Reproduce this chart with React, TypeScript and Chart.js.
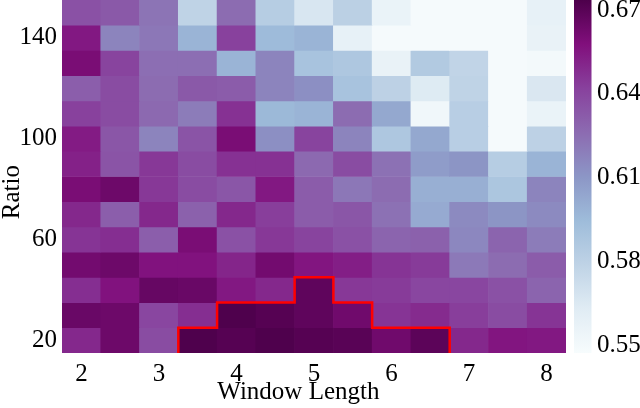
import { useEffect, useRef } from "react";
import { Chart, registerables } from "chart.js";

Chart.register(...registerables);

// Categories
const windowLengths = [2, 2.5, 3, 3.5, 4, 4.5, 5, 5.5, 6, 6.5, 7, 7.5, 8];
const ratios = [150, 140, 130, 120, 110, 100, 90, 80, 70, 60, 50, 40, 30, 20];

// Cell values, one array per ratio row (top to bottom), columns follow windowLengths
const ratio150 = [0.636, 0.633, 0.623, 0.579, 0.626, 0.583, 0.567, 0.581, 0.556, 0.549, 0.549, 0.549, 0.558];
const ratio140 = [0.655, 0.617, 0.622, 0.598, 0.642, 0.595, 0.598, 0.558, 0.549, 0.549, 0.549, 0.549, 0.557];
const ratio130 = [0.660, 0.641, 0.625, 0.625, 0.598, 0.617, 0.590, 0.587, 0.557, 0.585, 0.578, 0.549, 0.550];
const ratio120 = [0.631, 0.638, 0.626, 0.633, 0.632, 0.617, 0.613, 0.590, 0.580, 0.564, 0.579, 0.549, 0.566];
const ratio110 = [0.642, 0.638, 0.627, 0.620, 0.647, 0.596, 0.598, 0.626, 0.603, 0.552, 0.582, 0.549, 0.556];
const ratio100 = [0.654, 0.634, 0.617, 0.635, 0.660, 0.613, 0.641, 0.617, 0.587, 0.603, 0.582, 0.549, 0.580];
const ratio90 = [0.652, 0.635, 0.645, 0.638, 0.647, 0.647, 0.627, 0.638, 0.624, 0.608, 0.611, 0.583, 0.598];
const ratio80 = [0.660, 0.664, 0.645, 0.638, 0.634, 0.655, 0.632, 0.622, 0.626, 0.600, 0.600, 0.588, 0.617];
const ratio70 = [0.650, 0.631, 0.650, 0.630, 0.650, 0.643, 0.632, 0.634, 0.624, 0.602, 0.615, 0.611, 0.615];
const ratio60 = [0.646, 0.648, 0.631, 0.660, 0.636, 0.645, 0.641, 0.636, 0.629, 0.630, 0.616, 0.629, 0.620];
const ratio50 = [0.662, 0.664, 0.657, 0.657, 0.651, 0.662, 0.656, 0.653, 0.646, 0.644, 0.621, 0.626, 0.632];
const ratio40 = [0.648, 0.657, 0.666, 0.665, 0.655, 0.650, 0.668, 0.645, 0.644, 0.640, 0.640, 0.636, 0.629];
const ratio30 = [0.665, 0.664, 0.640, 0.648, 0.673, 0.671, 0.668, 0.663, 0.646, 0.649, 0.643, 0.638, 0.646];
const ratio20 = [0.650, 0.664, 0.638, 0.673, 0.671, 0.673, 0.671, 0.670, 0.663, 0.669, 0.650, 0.656, 0.655];

// Highlighted region outline (x, y in data units)
const regionX = [3.25, 3.25, 3.75, 3.75, 4.75, 4.75, 5.25, 5.25, 5.75, 5.75, 6.75, 6.75];
const regionY = [15, 25, 25, 35, 35, 45, 45, 35, 35, 25, 25, 15];

// Tick labels
const xTicks = [2, 3, 4, 5, 6, 7, 8];
const yTicks = [20, 60, 100, 140];
const colorbarTicks = [0.55, 0.58, 0.61, 0.64, 0.67];
const valueMin = 0.5473;
const valueMax = 0.6736;

const BUPU = ["#f7fcfd", "#e0ecf4", "#bfd3e6", "#9ebcda", "#8c96c6", "#8c6bb1", "#88419d", "#810f7c", "#4d004b"];

const valueRows = [ratio150, ratio140, ratio130, ratio120, ratio110, ratio100, ratio90, ratio80, ratio70, ratio60, ratio50, ratio40, ratio30, ratio20];

function hexToRgb(h: string) {
  return [parseInt(h.slice(1, 3), 16), parseInt(h.slice(3, 5), 16), parseInt(h.slice(5, 7), 16)];
}

function colorFor(v: number) {
  let t = (v - valueMin) / (valueMax - valueMin);
  t = Math.max(0, Math.min(1, t));
  const pos = t * (BUPU.length - 1);
  const i = Math.min(BUPU.length - 2, Math.floor(pos));
  const f = pos - i;
  const a = hexToRgb(BUPU[i]);
  const b = hexToRgb(BUPU[i + 1]);
  const c = a.map((av, k) => Math.round(av + (b[k] - av) * f));
  return `rgb(${c[0]},${c[1]},${c[2]})`;
}

const FONT = { family: "'Liberation Serif', 'Times New Roman', serif", size: 25 };

function clearPadding(s: any) {
  s.paddingTop = 0;
  s.paddingBottom = 0;
  s.paddingLeft = 0;
  s.paddingRight = 0;
}

const colorbarPlugin = {
  id: "colorbar",
  afterDraw(chart: any) {
    const { ctx, chartArea } = chart;
    const s = chart.scales.cb;
    const top = s.getPixelForValue(valueMax);
    const bottom = s.getPixelForValue(valueMin);
    const x0 = chartArea.right + 8;
    const w = 17.5;
    const g = ctx.createLinearGradient(0, bottom, 0, top);
    BUPU.forEach((c, i) => g.addColorStop(i / (BUPU.length - 1), c));
    ctx.save();
    ctx.fillStyle = g;
    ctx.fillRect(x0, top, w, bottom - top);
    ctx.restore();
  },
};

export default function App() {
  const ref = useRef<HTMLCanvasElement>(null);
  useEffect(() => {
    const cellSets = valueRows.map((row, r) => ({
      type: "bar" as const,
      data: windowLengths.map((x) => ({ x, y: [ratios[r] - 5, ratios[r] + 5] })),
      backgroundColor: row.map(colorFor),
      borderWidth: 0,
      barPercentage: 1,
      categoryPercentage: 1,
      grouped: false,
      order: 1,
    }));
    const outline = {
      type: "line" as const,
      data: regionX.map((x, i) => ({ x, y: regionY[i] })),
      borderColor: "#ff0000",
      borderWidth: 2.5,
      pointRadius: 0,
      fill: false,
      tension: 0,
      order: 0,
    };
    const chart = new Chart(ref.current!, {
      type: "bar",
      data: { datasets: [outline, ...cellSets] as any },
      options: {
        responsive: false,
        devicePixelRatio: 1,
        animation: false,
        events: [],
        layout: { padding: 0, autoPadding: false },
        plugins: { legend: { display: false }, tooltip: { enabled: false } },
        scales: {
          x: {
            type: "linear",
            min: 1.75,
            max: 8.25,
            offset: false,
            afterBuildTicks: (s: any) => {
              s.ticks = xTicks.map((v) => ({ value: v }));
            },
            afterFit: (s: any) => {
              s.height = 55;
              clearPadding(s);
            },
            grid: { display: false, drawTicks: false },
            border: { display: false },
            ticks: { font: FONT, color: "#000", padding: 6, maxRotation: 0, autoSkip: false, callback: (v: any) => String(v) },
            title: { display: true, text: "Window Length     ", font: FONT, color: "#000", padding: { top: 0, bottom: 1 } },
          },
          y: {
            type: "linear",
            min: 15,
            max: 155,
            afterBuildTicks: (s: any) => {
              s.ticks = yTicks.map((v) => ({ value: v }));
            },
            afterFit: (s: any) => {
              s.width = 62;
              clearPadding(s);
            },
            grid: { display: false, drawTicks: false },
            border: { display: false },
            ticks: { font: FONT, color: "#000", padding: 5, autoSkip: false, callback: (v: any) => String(v) },
            title: { display: true, text: "Ratio     ", font: FONT, color: "#000", padding: { top: -3, bottom: 0 } },
          },
          cb: {
            type: "linear",
            position: "right",
            min: valueMin,
            max: valueMax,
            afterBuildTicks: (s: any) => {
              s.ticks = colorbarTicks.map((v) => ({ value: v }));
            },
            afterFit: (s: any) => {
              s.width = 74;
              clearPadding(s);
            },
            grid: { display: false, drawTicks: false },
            border: { display: false },
            ticks: { font: FONT, color: "#000", padding: 31, autoSkip: false, callback: (v: any) => Number(v).toFixed(2) },
          },
        },
      } as any,
      plugins: [colorbarPlugin],
    });
    return () => chart.destroy();
  }, []);
  return (
    <canvas
      ref={ref}
      width={640}
      height={408}
      style={{ position: "absolute", left: 0, top: 0, width: 640, height: 408, display: "block" }}
    />
  );
}
